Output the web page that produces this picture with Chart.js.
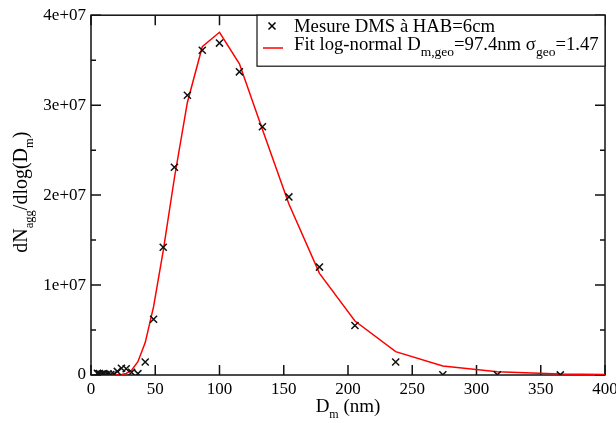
<!DOCTYPE html>
<html>
<head>
<meta charset="utf-8">
<script src="https://cdn.jsdelivr.net/npm/chart.js@4.4.1/dist/chart.umd.min.js"></script>
<style>
    html, body { margin: 0; padding: 0; background: #ffffff; }
</style>
</head>
<body>
<canvas id="grafica" width="616" height="423"></canvas>
<script>
// Diamètres des classes du DMS (nm)
const diameters = [5.0, 5.62, 6.49, 7.50, 8.66, 10.0, 11.5, 13.3, 15.4, 17.8, 20.5, 23.7, 27.4, 31.6, 36.5,
    42.2, 48.7, 56.2, 64.9, 75.0, 86.6, 100, 115.5, 133.4, 154.0, 177.8, 205.4, 237.1, 273.8, 316.2, 365.2];

// Mesure DMS à HAB=6cm
const measured = [2e5, 1e5, 1.5e5, 5e4, 1e5, 1.5e5, 5e4, 1e5, 5e4, 1e5, 4e5, 7.5e5, 7e5, 3e5, 1.5e5,
    1.45e6, 6.2e6, 1.42e7, 2.31e7, 3.11e7, 3.61e7, 3.69e7, 3.37e7, 2.76e7, 1.98e7, 1.2e7, 5.5e6, 1.45e6, 3e4, 2e4, 1e4];

// Fit log-normal (une classe de plus, coupée à 400 nm)
const fitDiameters = [5.0, 5.62, 6.49, 7.50, 8.66, 10.0, 11.5, 13.3, 15.4, 17.8, 20.5, 23.7, 27.4, 31.6, 36.5,
    42.2, 48.7, 56.2, 64.9, 75.0, 86.6, 100, 115.5, 133.4, 154.0, 177.8, 205.4, 237.1, 273.8, 316.2, 365.2, 421.7];
const fitValues = [0, 0, 0, 0, 0, 0, 0, 0, 0, 0, 5e3, 4.5e4, 1.7e5, 5.3e5, 1.48e6,
    3.6e6, 7.6e6, 1.38e7, 2.19e7, 3.03e7, 3.65e7, 3.81e7, 3.46e7, 2.73e7, 1.9e7, 1.13e7, 6.0e6, 2.6e6, 1.0e6, 3.5e5, 1.05e5, 2.5e4];

// Graduations
const xMajor = [0, 50, 100, 150, 200, 250, 300, 350, 400];
const yMajor = [0, 1e7, 2e7, 3e7, 4e7];
const yMinor = [5e6, 1.5e7, 2.5e7, 3.5e7];

const serif = "'Liberation Serif', 'DejaVu Serif', serif";

// Texte avec indices : liste de morceaux [texte, estIndice]
function drawRich(ctx, parts, x, y, size, subSize, subDrop, align) {
    const widths = parts.map(([t, sub]) => {
        ctx.font = (sub ? subSize : size) + "px " + serif;
        return ctx.measureText(t).width;
    });
    const total = widths.reduce((a, b) => a + b, 0);
    let cx = align === "center" ? x - total / 2 : x;
    parts.forEach(([t, sub], i) => {
        ctx.font = (sub ? subSize : size) + "px " + serif;
        ctx.fillText(t, cx, sub ? y + subDrop : y);
        cx += widths[i];
    });
}

// Cadre et graduations vers l'intérieur
const framePlugin = {
    id: "framePlugin",
    beforeDatasetsDraw(chart) {
        const { ctx, chartArea: a, scales } = chart;
        ctx.save();
        ctx.strokeStyle = "#111";
        ctx.lineWidth = 1.5;
        ctx.strokeRect(a.left, a.top, a.right - a.left, a.bottom - a.top);

        ctx.beginPath();
        xMajor.forEach(v => {
            const px = scales.x.getPixelForValue(v);
            ctx.moveTo(px, a.bottom); ctx.lineTo(px, a.bottom - 10);
            ctx.moveTo(px, a.top); ctx.lineTo(px, a.top + 10);
        });
        yMajor.forEach(v => {
            const py = scales.y.getPixelForValue(v);
            ctx.moveTo(a.left, py); ctx.lineTo(a.left + 10, py);
            ctx.moveTo(a.right, py); ctx.lineTo(a.right - 10, py);
        });
        yMinor.forEach(v => {
            const py = scales.y.getPixelForValue(v);
            ctx.moveTo(a.left, py); ctx.lineTo(a.left + 5, py);
            ctx.moveTo(a.right, py); ctx.lineTo(a.right - 5, py);
        });
        ctx.stroke();
        ctx.restore();
    },

    afterDraw(chart) {
        const { ctx, chartArea: a } = chart;
        ctx.save();
        ctx.fillStyle = "#000";
        ctx.textBaseline = "alphabetic";
        ctx.textAlign = "left";

        // Titre de l'axe x
        drawRich(ctx, [["D", false], ["m", true], [" (nm)", false]],
            (a.left + a.right) / 2, 412, 19, 12, 6, "center");

        // Titre de l'axe y (tourné)
        ctx.translate(27, (a.top + a.bottom) / 2 - 3);
        ctx.rotate(-Math.PI / 2);
        drawRich(ctx, [["dN", false], ["agg", true], ["/dlog(D", false], ["m", true], [")", false]],
            0, 0, 20, 12.5, 6, "center");
        ctx.setTransform(1, 0, 0, 1, 0, 0);

        // Légende
        const bx = 257, by = a.top, bw = a.right - 257, bh = 51;
        ctx.fillStyle = "#fff";
        ctx.fillRect(bx, by, bw, bh);
        ctx.strokeStyle = "#111";
        ctx.lineWidth = 1.2;
        ctx.strokeRect(bx, by, bw, bh);

        ctx.strokeStyle = "#000";
        ctx.lineWidth = 1.5;
        ctx.beginPath();
        ctx.moveTo(268.5, 22.5); ctx.lineTo(275.5, 29.5);
        ctx.moveTo(275.5, 22.5); ctx.lineTo(268.5, 29.5);
        ctx.stroke();

        ctx.strokeStyle = "#ff0000";
        ctx.beginPath();
        ctx.moveTo(263, 48); ctx.lineTo(283, 48);
        ctx.stroke();

        ctx.fillStyle = "#000";
        drawRich(ctx, [["Mesure DMS à HAB=6cm", false]], 294, 32, 18.7, 13.5, 5, "left");
        drawRich(ctx, [["Fit log-normal D", false], ["m,geo", true], ["=97.4nm σ", false], ["geo", true], ["=1.47", false]],
            294, 50, 18.7, 13.5, 6, "left");
        ctx.restore();
    }
};

new Chart(document.getElementById("grafica"), {
    type: "scatter",
    data: {
        datasets: [{
            label: "Mesure DMS à HAB=6cm",
            data: diameters.map((d, i) => ({ x: d, y: measured[i] })),
            pointStyle: "crossRot",
            pointRadius: 5,
            pointBorderWidth: 1.5,
            borderColor: "#111",
            backgroundColor: "#111",
            order: 0
        }, {
            label: "Fit log-normal",
            data: fitDiameters.map((d, i) => ({ x: d, y: fitValues[i] })),
            showLine: true,
            pointRadius: 0,
            borderColor: "#ff0000",
            borderWidth: 1.5,
            order: 1
        }]
    },
    options: {
        responsive: false,
        animation: false,
        devicePixelRatio: 1,
        layout: { padding: { top: 15, right: 11, left: 0, bottom: 0 } },
        plugins: { legend: { display: false }, tooltip: { enabled: false } },
        scales: {
            x: {
                type: "linear",
                min: 0,
                max: 400,
                // hauteur fixe, et le "400" peut déborder comme sur l'original
                afterFit: s => { s.height = 48; s.paddingRight = 0; s.paddingLeft = 0; },
                grid: { display: false, drawTicks: false },
                border: { display: false },
                ticks: {
                    stepSize: 50,
                    padding: 4,
                    color: "#000",
                    maxRotation: 0,
                    font: { family: serif, size: 17 }
                }
            },
            y: {
                min: 0,
                max: 4e7,
                afterFit: s => { s.width = 91; },
                grid: { display: false, drawTicks: false },
                border: { display: false },
                ticks: {
                    stepSize: 1e7,
                    padding: 5,
                    color: "#000",
                    font: { family: serif, size: 17 },
                    callback: v => v === 0 ? "0" : (v / 1e7) + "e+07"
                }
            }
        }
    },
    plugins: [framePlugin]
});
</script>
</body>
</html>
